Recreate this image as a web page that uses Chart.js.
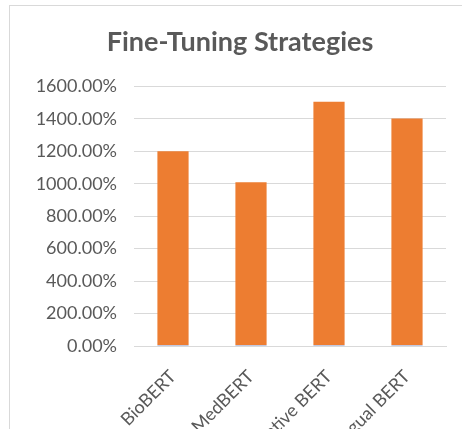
<!DOCTYPE html>
<html>
<head>
<meta charset="utf-8">
<script src="https://cdn.jsdelivr.net/npm/chart.js@4.4.0/dist/chart.umd.min.js"></script>
<style>
  html, body { margin: 0; padding: 0; background: #fff; overflow: hidden; width: 462px; height: 429px; }
  #frame { position: absolute; left: 9px; top: 5px; width: 460px; height: 430px;
           border-left: 1px solid #d9d9d9; border-top: 1px solid #d9d9d9; }
  #myChart { position: absolute; left: 0; top: 0; }
</style>
</head>
<body>
<div id="frame">
  <canvas id="myChart" width="452" height="423"></canvas>
</div>
<script>
var categories = ['BioBERT', 'MedBERT', 'Adaptive BERT', 'Multilingual BERT'];
var baseValues = [6, 6, 6, 6];
var gainValues = [1194, 1004, 1499, 1396];
var yTicks = [0, 200, 400, 600, 800, 1000, 1200, 1400, 1600];

var textColor = '#595959';
var gridColor = '#d9d9d9';

function createChart() {
    var ctx = document.getElementById('myChart').getContext('2d');
    new Chart(ctx, {
        type: 'bar',
        data: {
            labels: categories,
            datasets: [
                {
                    label: 'Base',
                    data: baseValues,
                    backgroundColor: '#8592c4',
                    barPercentage: 0.4,
                    categoryPercentage: 1
                },
                {
                    label: 'Fine-tuned',
                    data: gainValues,
                    backgroundColor: '#ed7d31',
                    barPercentage: 0.4,
                    categoryPercentage: 1
                }
            ]
        },
        options: {
            responsive: false,
            animation: false,
            layout: { padding: { left: 24, right: 16, top: 0, bottom: 0 } },
            plugins: {
                legend: { display: false },
                tooltip: { enabled: false },
                title: {
                    display: true,
                    text: 'Fine-Tuning Strategies',
                    color: textColor,
                    font: { family: 'Lato', size: 27, weight: 'bold' },
                    padding: { top: 20, bottom: 28 }
                }
            },
            scales: {
                x: {
                    stacked: true,
                    grid: { display: false },
                    border: { color: gridColor },
                    ticks: {
                        color: textColor,
                        font: { family: 'Lato', size: 18 },
                        minRotation: 45,
                        maxRotation: 45,
                        autoSkip: false,
                        padding: 12
                    },
                    afterFit: function (scale) { scale.height = 83; }
                },
                y: {
                    stacked: true,
                    min: 0,
                    max: 1600,
                    afterBuildTicks: function (scale) {
                        scale.ticks = yTicks.map(function (v) { return { value: v }; });
                    },
                    grid: { color: gridColor, drawTicks: false },
                    border: { display: false },
                    ticks: {
                        color: textColor,
                        font: { family: 'Lato', size: 18 },
                        padding: 17,
                        callback: function (v) { return v.toFixed(2) + '%'; }
                    },
                    afterFit: function (scale) { scale.width = 100; }
                }
            }
        }
    });
}
createChart();
</script>
</body>
</html>
